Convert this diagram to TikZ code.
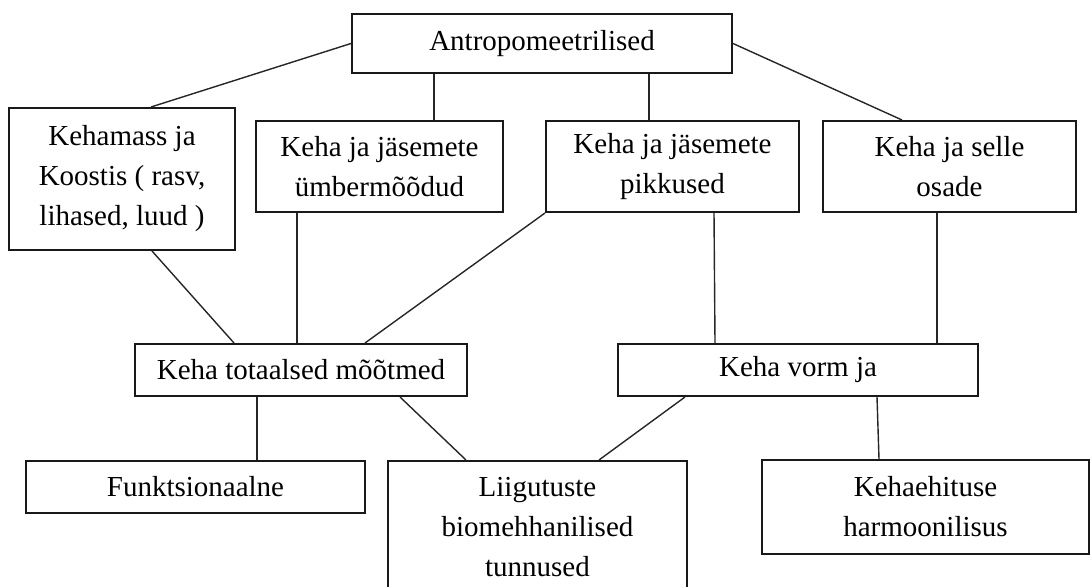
\documentclass[tikz,border=0pt]{standalone}
\usepackage{fontspec}
\setmainfont{Liberation Serif}
\usetikzlibrary{calc}

\begin{document}
\begin{tikzpicture}[
  x=0.5pt, y=-0.5pt,
  font=\fontsize{14.5}{20}\selectfont,
  box/.style={draw=black!90, line width=1pt, align=center, inner sep=0pt},
  link/.style={line width=0.7pt, draw=black!85}
]
% Page frame, same size as the original figure.
\useasboundingbox (0,0) rectangle (1091,587);
\clip (0,0) rectangle (1091,587);

% Top node.
\node[box, minimum width=190pt, minimum height=29.5pt] (antro) at (542,43.5) {Antropomeetrilised};

% Second row: the four groups of measures.
\node[box, minimum width=113pt, minimum height=71pt] (mass) at (122,179)
  {Kehamass ja\\Koostis ( rasv,\\lihased, luud )};
\node[box, minimum width=123.5pt, minimum height=45.5pt] (ymber) at (379.5,166.5)
  {Keha ja jäsemete\\ümbermõõdud};
\node[box, minimum width=126.5pt, minimum height=45.5pt] (pikk) at (672.5,166.5)
  {Keha ja jäsemete\\pikkused};
\node[box, minimum width=126.5pt, minimum height=45.5pt] (osad) at (949.5,166.5)
  {Keha ja selle\\osade};

% Middle row.
\node[box, minimum width=166pt, minimum height=26pt] (tot) at (301,370) {Keha totaalsed mõõtmed};
\node[box, minimum width=180pt, minimum height=26pt] (vorm) at (798,370) {Keha vorm ja};

% Bottom row (the middle box runs past the lower edge).
\node[box, minimum width=169.5pt, minimum height=26pt] (funk) at (195.5,487) {Funktsionaalne};
\node[box, minimum width=149.5pt, minimum height=66pt] (liig) at (537.5,527)
  {Liigutuste\\biomehhanilised\\tunnused};
\node[box, minimum width=163.5pt, minimum height=47pt] (harm) at (925.5,507)
  {Kehaehituse\\harmoonilisus};

% Links from the top node.
\draw[link] (antro.west) -- ($(mass.north)+(29,0)$);
\draw[link] ($(ymber.north)+(54.5,0)$) coordinate (a1) -- (a1 |- antro.south);
\draw[link] ($(pikk.north)+(-23.5,0)$) coordinate (a2) -- (a2 |- antro.south);
\draw[link] (antro.east) -- ($(osad.north)+(-47.5,0)$);

% Links into the middle row.
\draw[link] ($(mass.south)+(30,0)$) -- ($(tot.north)+(-67,0)$);
\draw[link] ($(ymber.south)+(-82.5,0)$) coordinate (b1) -- (b1 |- tot.north);
\draw[link] (pikk.south west) -- ($(tot.north)+(64,0)$);
\draw[link] ($(pikk.south)+(41.5,0)$) -- ($(vorm.north)+(-83,0)$);
\draw[link] ($(osad.south)+(-12.5,0)$) coordinate (b2) -- (b2 |- vorm.north);

% Links into the bottom row.
\draw[link] ($(tot.south)+(-44,0)$) coordinate (c1) -- (c1 |- funk.north);
\draw[link] ($(tot.south)+(99,0)$) -- ($(liig.north)+(-71.5,0)$);
\draw[link] ($(vorm.south)+(-113,0)$) -- ($(liig.north)+(61.5,0)$);
\draw[link] ($(vorm.south)+(79,0)$) -- ($(harm.north)+(-46.5,0)$);
\end{tikzpicture}
\end{document}
